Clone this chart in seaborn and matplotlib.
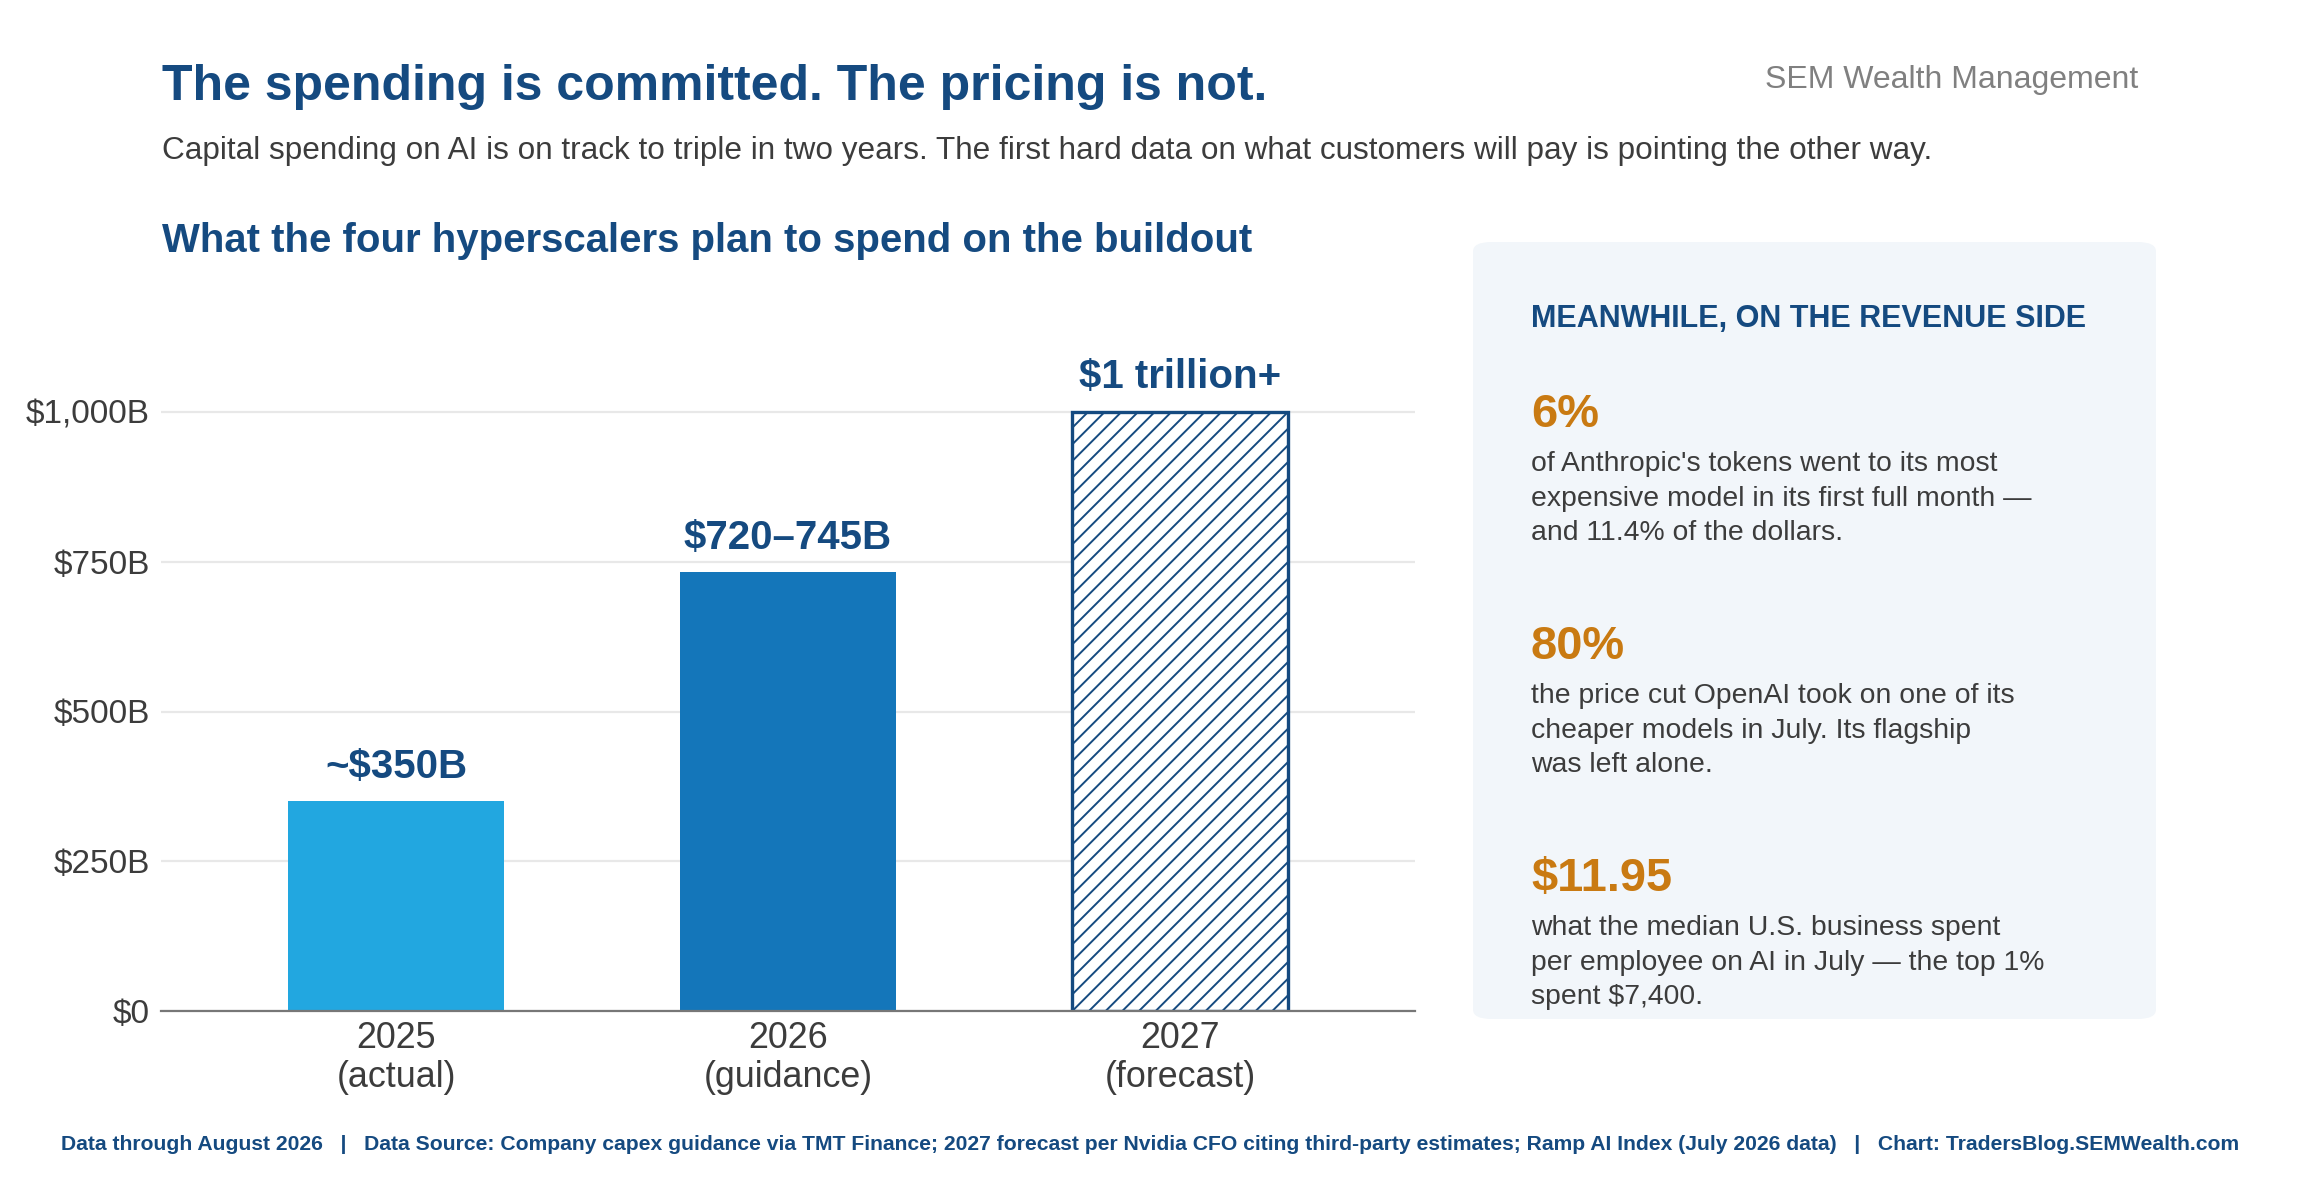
import numpy as np
import pandas as pd
import matplotlib
matplotlib.use('Agg')
import matplotlib.pyplot as plt
from matplotlib.patches import FancyBboxPatch
import seaborn as sns

# ---- data ----
years = ['2025\n(actual)', '2026\n(guidance)', '2027\n(forecast)']
capex = [350, 732.5, 1000]
bar_labels = ['~$350B', '$720–745B', '$1 trillion+']
yticks = [0, 250, 500, 750, 1000]
ytick_labels = ['$0', '$250B', '$500B', '$750B', '$1,000B']

stat_values = ['6%', '80%', '$11.95']
stat_texts = [
    "of Anthropic's tokens went to its most\nexpensive model in its first full month —\nand 11.4% of the dollars.",
    "the price cut OpenAI took on one of its\ncheaper models in July. Its flagship\nwas left alone.",
    "what the median U.S. business spent\nper employee on AI in July — the top 1%\nspent $7,400.",
]

NAVY = '#154A80'
ORANGE = '#C97A12'
GREY_TXT = '#3C3C3C'
bar_colors = ['#22A7E0', '#1476BA', '#FFFFFF']

sns.set_theme(style='white')
plt.rcParams['font.family'] = ['Liberation Sans', 'DejaVu Sans']
plt.rcParams['hatch.linewidth'] = 1.4
plt.rcParams['hatch.color'] = NAVY

W, H = 2300, 1190
fig = plt.figure(figsize=(23, 11.9), dpi=100)

def fx(x):
    return x / W

def fy(y):
    return 1 - y / H

# ---- header ----
fig.text(fx(162), fy(87), 'The spending is committed. The pricing is not.',
         fontsize=36, fontweight='bold', color=NAVY, va='center', ha='left')
fig.text(fx(2138), fy(80), 'SEM Wealth Management', fontsize=23, color='#808080',
         va='center', ha='right')
fig.text(fx(162), fy(151), 'Capital spending on AI is on track to triple in two years. '
         'The first hard data on what customers will pay is pointing the other way.',
         fontsize=22.7, color=GREY_TXT, va='center', ha='left')
fig.text(fx(162), fy(241), 'What the four hyperscalers plan to spend on the buildout',
         fontsize=28.9, fontweight='bold', color=NAVY, va='center', ha='left')

# ---- bar chart ----
base_y, top_y, left_x, right_x = 1011, 412, 161, 1415
px_per_unit = (base_y - top_y) / 1000
ymax = 1125
ax = fig.add_axes([fx(left_x), fy(base_y), fx(right_x) - fx(left_x), ymax * px_per_unit / H])
df = pd.DataFrame({'year': years, 'capex': capex})
sns.barplot(data=df, x='year', y='capex', hue='year', palette=bar_colors,
            width=0.55, legend=False, ax=ax, saturation=1)

for i, p in enumerate(ax.patches):
    if i == 2:
        p.set_hatch('//')
        p.set_edgecolor(NAVY)
        p.set_linewidth(2.4)
    else:
        p.set_edgecolor('none')
    ax.text(p.get_x() + p.get_width() / 2, p.get_height() + 26, bar_labels[i],
            ha='center', va='bottom', fontsize=29, fontweight='bold', color=NAVY)

ax.set_xlim(-0.6, 2.6)
ax.set_ylim(0, ymax)
ax.set_yticks(yticks)
ax.set_yticklabels(ytick_labels)
ax.yaxis.grid(True, color='#E8E8E8', linewidth=1.6)
ax.set_axisbelow(True)
for s in ['top', 'right', 'left']:
    ax.spines[s].set_visible(False)
ax.spines['bottom'].set_color('#777777')
ax.spines['bottom'].set_linewidth(1.6)
ax.tick_params(axis='both', length=0, colors=GREY_TXT)
ax.tick_params(axis='y', labelsize=24, pad=8)
ax.tick_params(axis='x', labelsize=25.8, pad=7)
for lbl in ax.get_xticklabels():
    lbl.set_linespacing(1.15)
ax.set_xlabel('')
ax.set_ylabel('')

# ---- revenue panel ----
panel = FancyBboxPatch((fx(1473), fy(1019)), fx(2156) - fx(1473), fy(242) - fy(1019),
                       boxstyle='round,pad=0,rounding_size=0.008',
                       transform=fig.transFigure, facecolor='#F2F6FA',
                       edgecolor='none', zorder=0)
fig.patches.append(panel)

fig.text(fx(1531), fy(319), 'MEANWHILE, ON THE REVENUE SIDE', fontsize=22,
         fontweight='bold', color=NAVY, va='center', ha='left')

stat_y = [415, 647, 879]
for v, t, y in zip(stat_values, stat_texts, stat_y):
    fig.text(fx(1531), fy(y), v, fontsize=33.8, fontweight='bold', color=ORANGE,
             va='center', ha='left')
    fig.text(fx(1531), fy(y + 36), t, fontsize=20.4, color=GREY_TXT,
             va='top', ha='left', linespacing=1.43)

# ---- footer ----
fig.text(0.5, fy(1145), 'Data through August 2026   |   Data Source: Company capex guidance via TMT Finance; '
         '2027 forecast per Nvidia CFO citing third-party estimates; Ramp AI Index (July 2026 data)   |   '
         'Chart: TradersBlog.SEMWealth.com',
         fontsize=15.2, fontweight='bold', color=NAVY, va='center', ha='center')

fig.savefig('out.png', dpi=100, facecolor='white')
